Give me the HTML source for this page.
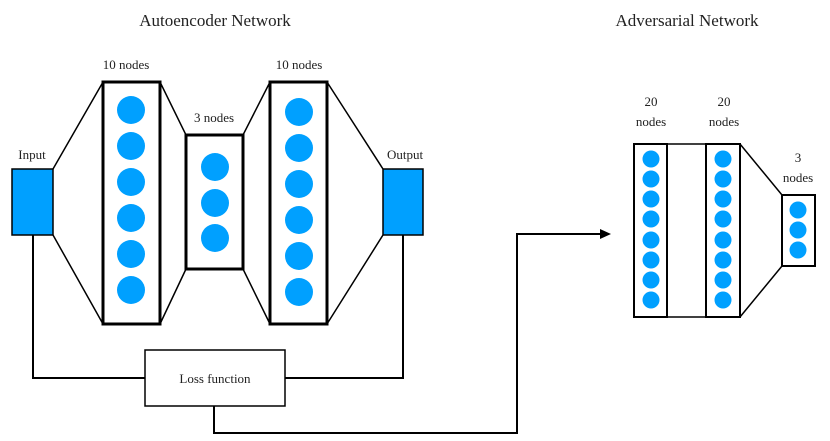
<!DOCTYPE html>
<html><head><meta charset="utf-8"><style>html,body{margin:0;padding:0;background:#fff}svg{display:block}text{font-family:"Liberation Serif",serif;fill:#222}</style></head><body>
<svg width="830" height="441" viewBox="0 0 830 441" xmlns="http://www.w3.org/2000/svg">
<g stroke="#000" stroke-width="1.5" fill="none">
<path d="M53,169 L103,82 M53,235 L103,324 M160,82 L186,135 M160,324 L186,269 M243,135 L270,82 M243,269 L270,324 M327,82 L383,169 M327,324 L383,235"/>
<path d="M740,144 L782,195 M740,317 L782,266"/>
</g>
<g stroke="#000" stroke-width="2" fill="none">
<path d="M33,235 V378 H145 M403,235 V378 H285 M214,406 V433 H517 V234 H602"/>
</g>
<path d="M600,229 L611,234 L600,239 Z" fill="#000"/>
<rect x="12" y="169" width="41" height="66" fill="#00a0ff" stroke="#000" stroke-width="1.5"/>
<rect x="383" y="169" width="40" height="66" fill="#00a0ff" stroke="#000" stroke-width="1.5"/>
<g fill="#fff" stroke="#000" stroke-width="3">
<rect x="103" y="82" width="57" height="242"/>
<rect x="186" y="135" width="57" height="134"/>
<rect x="270" y="82" width="57" height="242"/>
</g>
<rect x="145" y="350" width="140" height="56" fill="#fff" stroke="#000" stroke-width="1.5"/>
<g fill="#fff" stroke="#000" stroke-width="2">
<rect x="634" y="144" width="106" height="173" stroke-width="1.5"/>
<rect x="634" y="144" width="33" height="173"/>
<rect x="706" y="144" width="34" height="173"/>
<rect x="782" y="195" width="33" height="71"/>
</g>
<g fill="#00a0ff">
<circle cx="131" cy="110" r="14"/><circle cx="131" cy="146" r="14"/><circle cx="131" cy="182" r="14"/><circle cx="131" cy="218" r="14"/><circle cx="131" cy="254" r="14"/><circle cx="131" cy="290" r="14"/>
<circle cx="215" cy="167" r="14"/><circle cx="215" cy="203" r="14"/><circle cx="215" cy="238" r="14"/>
<circle cx="299" cy="112" r="14"/><circle cx="299" cy="148" r="14"/><circle cx="299" cy="184" r="14"/><circle cx="299" cy="220" r="14"/><circle cx="299" cy="256" r="14"/><circle cx="299" cy="292" r="14"/>
<circle cx="651" cy="159" r="8.5"/><circle cx="651" cy="179" r="8.5"/><circle cx="651" cy="199" r="8.5"/><circle cx="651" cy="219" r="8.5"/><circle cx="651" cy="240" r="8.5"/><circle cx="651" cy="260" r="8.5"/><circle cx="651" cy="280" r="8.5"/><circle cx="651" cy="300" r="8.5"/>
<circle cx="723" cy="159" r="8.5"/><circle cx="723" cy="179" r="8.5"/><circle cx="723" cy="199" r="8.5"/><circle cx="723" cy="219" r="8.5"/><circle cx="723" cy="240" r="8.5"/><circle cx="723" cy="260" r="8.5"/><circle cx="723" cy="280" r="8.5"/><circle cx="723" cy="300" r="8.5"/>
<circle cx="798" cy="210" r="8.5"/><circle cx="798" cy="230" r="8.5"/><circle cx="798" cy="250" r="8.5"/>
</g>
<text x="215" y="26" font-size="17" text-anchor="middle">Autoencoder Network</text>
<text x="687" y="26" font-size="17" text-anchor="middle">Adversarial Network</text>
<g font-size="13" text-anchor="middle">
<text x="126" y="69">10 nodes</text>
<text x="214" y="122">3 nodes</text>
<text x="299" y="69">10 nodes</text>
<text x="32" y="159">Input</text>
<text x="405" y="159">Output</text>
<text x="651" y="106">20</text><text x="651" y="126">nodes</text>
<text x="724" y="106">20</text><text x="724" y="126">nodes</text>
<text x="798" y="162">3</text><text x="798" y="182">nodes</text>
<text x="215" y="383">Loss function</text>
</g>
</svg>
</body></html>
